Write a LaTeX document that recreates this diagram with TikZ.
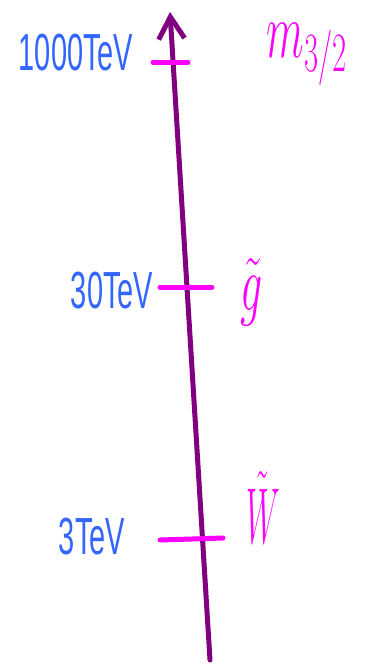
\RequirePackage{fix-cm}
\documentclass[tikz,border=0pt]{standalone}
\usepackage{fontspec}
\usepackage{graphicx}
\setsansfont{Liberation Sans}
\usetikzlibrary{arrows.meta, positioning}
\definecolor{achse}{HTML}{800080}
\definecolor{teilchen}{HTML}{FF00FF}
\definecolor{skala}{HTML}{3366FF}
\newcommand{\hoch}[2][1]{\scalebox{#1}[1.8]{#2}}

\begin{document}
\begin{tikzpicture}[
        x=1pt, y=-1pt,
        every node/.style={inner sep=0pt},
        skalalabel/.style={skala, font=\sffamily\fontsize{29}{30}\selectfont},
        teilchenlabel/.style={teilchen, font=\fontsize{44}{46}\selectfont},
        strich/.style={teilchen, line width=5pt, line cap=round},
      ]
      \useasboundingbox (0,0) rectangle (368,667);

      % Achse (leicht schief, von unten nach oben)
      \coordinate (unten) at (210,660);
      \coordinate (oben) at (170,12);
      \draw[achse, line width=5pt, line cap=round,
            -{Straight Barb[length=22pt, width=26pt, line width=5pt]}]
        (unten) -- (oben);

      % Markierungen: links Endpunkt, rechts Endpunkt
      \coordinate (tA) at (153,62);  \coordinate (tB) at (188,62);
      \coordinate (gA) at (160,287); \coordinate (gB) at (212,287);
      \coordinate (wA) at (160,540); \coordinate (wB) at (223,538);
      \foreach \a/\b in {tA/tB, gA/gB, wA/wB} {
        \draw[strich] (\a) -- (\b);
      }

      % Skalen (links)
      \node[skalalabel] (s1000) at (76,53) {\hoch{1000TeV}};
      \node[skalalabel] (s30) at (112,291) {\hoch{30TeV}};
      \node[skalalabel] (s3) at (92,537) {\hoch{3TeV}};

      % Teilchen (rechts)
      \node[teilchenlabel] (mgrav) at (307,54) {\hoch{$m_{3/2}$}};
      \node[teilchenlabel] (gluino) at (252,292) {\hoch{$\tilde{g}$}};
      \node[teilchenlabel] (wino) at (263,508) {\hoch[0.72]{$\tilde{W}$}};
    \end{tikzpicture}
\end{document}
